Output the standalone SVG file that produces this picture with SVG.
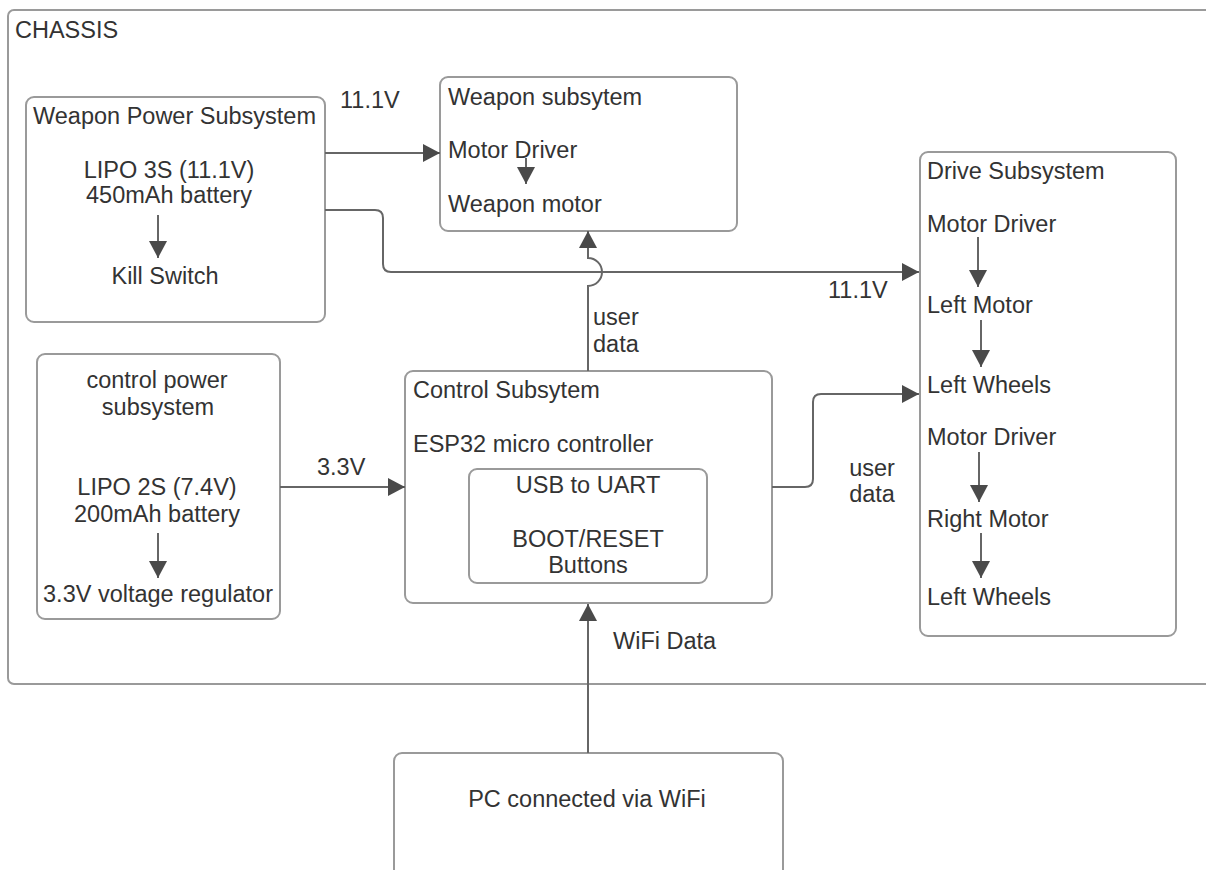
<svg xmlns="http://www.w3.org/2000/svg" width="1206" height="870" viewBox="0 0 1206 870">
  <style>
    .box { fill: #ffffff; stroke: #9a9a9a; stroke-width: 2; }
    .t { font-family: "Liberation Sans", Arial, sans-serif; font-size: 23.5px; fill: #333333; }
    .c { text-anchor: middle; }
    .wire { fill: none; stroke: #666666; stroke-width: 2; }
  </style>
  <defs>
    <marker id="arr" markerUnits="userSpaceOnUse" markerWidth="18" markerHeight="18" refX="17" refY="9" orient="auto">
      <path d="M0,0 L17,9 L0,18 Z" fill="#4a4a4a"/>
    </marker>
  </defs>

  <rect width="1206" height="870" fill="#ffffff"/>

  <!-- outer chassis frame -->
  <g id="chassis">
    <rect class="box" x="8" y="10" width="1220" height="674" rx="6"/>
    <text class="t" x="15" y="38">CHASSIS</text>
  </g>

  <g id="weapon-power">
    <rect class="box" x="26" y="97" width="299" height="225" rx="8"/>
    <text class="t" x="33" y="124">Weapon Power Subsystem</text>
    <text class="t c" x="169" y="178">LIPO 3S (11.1V)</text>
    <text class="t c" x="169" y="203">450mAh battery</text>
    <line class="wire" x1="158" y1="215" x2="158" y2="258" marker-end="url(#arr)"/>
    <text class="t c" x="165" y="284">Kill Switch</text>
  </g>

  <g id="weapon">
    <rect class="box" x="440" y="77" width="297" height="154" rx="8"/>
    <text class="t" x="448" y="105">Weapon subsytem</text>
    <text class="t" x="448" y="158">Motor Driver</text>
    <line class="wire" x1="526" y1="158" x2="526" y2="184" marker-end="url(#arr)"/>
    <text class="t" x="448" y="212">Weapon motor</text>
  </g>

  <g id="drive">
    <rect class="box" x="920" y="152" width="256" height="484" rx="8"/>
    <text class="t" x="927" y="179">Drive Subsystem</text>
    <text class="t" x="927" y="232">Motor Driver</text>
    <line class="wire" x1="978" y1="237" x2="978" y2="287" marker-end="url(#arr)"/>
    <text class="t" x="927" y="313">Left Motor</text>
    <line class="wire" x1="981" y1="320" x2="981" y2="367" marker-end="url(#arr)"/>
    <text class="t" x="927" y="393">Left Wheels</text>
    <text class="t" x="927" y="445">Motor Driver</text>
    <line class="wire" x1="979" y1="452" x2="979" y2="502" marker-end="url(#arr)"/>
    <text class="t" x="927" y="527">Right Motor</text>
    <line class="wire" x1="981" y1="533" x2="981" y2="578" marker-end="url(#arr)"/>
    <text class="t" x="927" y="605">Left Wheels</text>
  </g>

  <g id="control-power">
    <rect class="box" x="37" y="354" width="243" height="265" rx="8"/>
    <text class="t c" x="157" y="388">control power</text>
    <text class="t c" x="158" y="415">subsystem</text>
    <text class="t c" x="157" y="495">LIPO 2S (7.4V)</text>
    <text class="t c" x="157" y="522">200mAh battery</text>
    <line class="wire" x1="158" y1="533" x2="158" y2="578" marker-end="url(#arr)"/>
    <text class="t c" x="158" y="602">3.3V voltage regulator</text>
  </g>

  <g id="control">
    <rect class="box" x="405" y="371" width="367" height="232" rx="8"/>
    <text class="t" x="413" y="398">Control Subsytem</text>
    <text class="t" x="413" y="452">ESP32 micro controller</text>
    <g id="usb-uart">
      <rect class="box" x="469" y="469" width="238" height="114" rx="8"/>
      <text class="t c" x="588" y="493">USB to UART</text>
      <text class="t c" x="588" y="547">BOOT/RESET</text>
      <text class="t c" x="588" y="573">Buttons</text>
    </g>
  </g>

  <g id="pc">
    <rect class="box" x="394" y="753" width="389" height="130" rx="8"/>
    <text class="t c" x="587" y="807">PC connected via WiFi</text>
  </g>

  <g id="connectors">
    <!-- weapon power to weapon subsystem -->
    <line class="wire" x1="325" y1="153" x2="440" y2="153" marker-end="url(#arr)"/>
    <text class="t" x="340" y="108">11.1V</text>
    <!-- weapon power to drive subsystem -->
    <path class="wire" d="M325,210 H375 Q383,210 383,218 V264 Q383,272 391,272 H919" marker-end="url(#arr)"/>
    <text class="t" x="828" y="298">11.1V</text>
    <!-- control to weapon, hopping over the 11.1V line -->
    <path class="wire" d="M588,371 V286 A14,14 0 0 0 588,258 V231" marker-end="url(#arr)"/>
    <text class="t" x="593" y="325">user</text>
    <text class="t" x="593" y="352">data</text>
    <!-- control to drive -->
    <path class="wire" d="M772,487 H805 Q813,487 813,479 V402 Q813,394 821,394 H919" marker-end="url(#arr)"/>
    <text class="t c" x="872" y="476">user</text>
    <text class="t c" x="872" y="502">data</text>
    <!-- control power to control -->
    <line class="wire" x1="280" y1="487" x2="405" y2="487" marker-end="url(#arr)"/>
    <text class="t" x="317" y="475">3.3V</text>
    <!-- PC to control -->
    <line class="wire" x1="588" y1="753" x2="588" y2="604" marker-end="url(#arr)"/>
    <text class="t" x="613" y="649">WiFi Data</text>
  </g>
</svg>
